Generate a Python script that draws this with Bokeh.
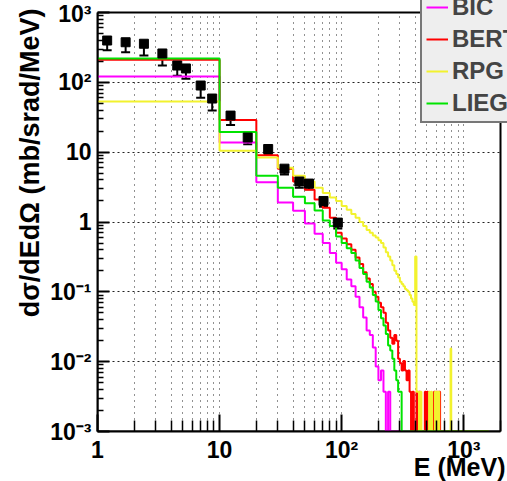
import numpy as np
from bokeh.plotting import figure
from bokeh.models import (BoxAnnotation, ColumnDataSource, FixedTicker,
                          Legend, LegendItem, TeeHead, Title, Whisker)
from bokeh.embed import file_html
from bokeh.resources import INLINE

# ---------------------------------------------------------------------------
# Model histograms: 10 MeV bins starting at 0 MeV, values in mb/srad/MeV.
# Bins beyond the listed values are empty.
# ---------------------------------------------------------------------------
BIN_WIDTH = 10.0
E_MAX = 1600.0

bic = [121, 13.7, 3.7, 1.9, 1.45, 0.95, 0.68, 0.5, 0.36, 0.26,
       0.21, 0.15, 0.12, 0.085, 0.06, 0.043, 0.028, 0.024, 0.016, 0.0085,
       0.0054, 0.0075, 0.0037, 0, 0.0037]

bert = [210, 29, 9.0, 5.8, 3.8, 2.9, 2.1, 1.6, 1.15, 0.7,
        0.58, 0.48, 0.4, 0.31, 0.25, 0.19, 0.155, 0.13, 0.1, 0.085,
        0.07, 0.06, 0.05, 0.036, 0.028, 0.022, 0.018, 0.024, 0.02, 0.011,
        0.0095, 0.0075, 0.0102, 0.0075, 0.0054, 0.0075, 0.0037, 0, 0.0037, 0,
        0, 0.0037, 0, 0.0037, 0, 0, 0, 0, 0.0037, 0,
        0.0037, 0, 0, 0, 0, 0, 0, 0.0037, 0, 0.0037,
        0, 0.0037, 0, 0.0037]

rpg = [53, 10.5, 8.4, 6.0, 4.6, 3.8, 3.1, 2.6, 2.25, 2.0,
       1.7, 1.5, 1.3, 1.15, 1.0, 0.88, 0.77, 0.7, 0.64, 0.6,
       0.55, 0.5, 0.43, 0.37, 0.32, 0.28, 0.24, 0.2, 0.18, 0.16,
       0.14, 0.13, 0.12, 0.11, 0.105, 0.1, 0.09, 0.08, 0.072, 0.065,
       0.32, 0.0037, 0.0037, 0, 0.0037, 0, 0, 0, 0, 0,
       0, 0, 0.0037, 0, 0.0037, 0, 0, 0, 0.0037, 0,
       0.0037, 0, 0.0037, 0, 0, 0, 0, 0, 0, 0,
       0, 0, 0, 0, 0, 0, 0, 0, 0.0155]

liege = [220, 19.5, 4.6, 3.1, 2.3, 1.85, 1.46, 1.05, 0.88, 0.62,
         0.5, 0.42, 0.36, 0.28, 0.22, 0.18, 0.14, 0.115, 0.09, 0.073,
         0.055, 0.042, 0.033, 0.025, 0.017, 0.0145, 0.011, 0.0075, 0.0054, 0.0037,
         0.0037]

# Measured points
data_e = [1.2, 1.7, 2.4, 3.4, 4.5, 5.3, 7.0, 8.7, 12.3, 17, 25, 34, 45, 54, 71, 93]
data_val = [397, 375, 357, 259, 174, 158, 90, 58.6, 33.4, 16.2, 11.1, 5.8, 3.8, 3.55, 2.0, 0.98]
data_err_lo = [110, 105, 115, 85, 50, 45, 30, 19, 9, 3.2, 1.8, 1.0, 0.7, 0.6, 0.35, 0.17]
data_err_hi = [40, 37, 35, 26, 17, 16, 9, 6, 3.3, 1.6, 1.1, 0.6, 0.4, 0.35, 0.2, 0.1]

# Axes
X_RANGE = (1, 2000)
Y_RANGE = (1e-3, 1e3)
x_major = [1, 10, 100, 1000]
x_major_labels = ["1", "10", "10²", "10³"]
y_major = [1e-3, 1e-2, 1e-1, 1, 10, 100, 1000]
y_major_labels = ["10⁻³", "10⁻²", "10⁻¹", "1", "10", "10²", "10³"]
x_minor = [m * 10 ** k for k in range(0, 3) for m in range(2, 10)] + [2000]
y_minor = [m * 10.0 ** k for k in range(-3, 3) for m in range(2, 10)]
x_title = "E (MeV)"
y_title = "dσ/dEdΩ (mb/srad/MeV)"

FONT = "Liberation Sans"

# Page layout (pixels). The drawing area runs to the top and right edges of
# the canvas so the legend box can spill over them; the framed region of the
# axes sits a few pixels inside.
W, H = 507, 481
BORDER_LEFT, BORDER_BOTTOM = 97, 50
BOX_RIGHT_PX, BOX_TOP_PX = 500, 12
frame_h = H - BORDER_BOTTOM
px_dec_x = (BOX_RIGHT_PX - BORDER_LEFT) / np.log10(X_RANGE[1] / X_RANGE[0])
px_dec_y = (frame_h - BOX_TOP_PX) / np.log10(Y_RANGE[1] / Y_RANGE[0])
x_view = (X_RANGE[0], X_RANGE[0] * 10 ** ((W - BORDER_LEFT) / px_dec_x))
y_view = (Y_RANGE[0], Y_RANGE[1] * 10 ** (BOX_TOP_PX / px_dec_y))

n_bins = int(E_MAX / BIN_WIDTH)
edges = np.arange(n_bins + 1) * BIN_WIDTH


def hist_outline(vals):
    v = np.zeros(n_bins)
    v[:len(vals)] = vals
    v = np.where(v > 0, v, Y_RANGE[0])      # empty bins rest on the axis floor
    x = edges.copy()
    x[0] = X_RANGE[0] * 0.5                 # 0 MeV edge is off the log axis
    y = np.append(v, v[-1])
    return x, y


p = figure(width=W, height=H, x_axis_type="log", y_axis_type="log",
           x_range=x_view, y_range=y_view, output_backend="svg",
           toolbar_location=None, min_border_left=BORDER_LEFT,
           min_border_right=0, min_border_top=0,
           min_border_bottom=BORDER_BOTTOM)
p.background_fill_color = "white"
p.border_fill_color = "white"
p.outline_line_color = None

# grid: dotted verticals at every tick, dotted horizontals at decades
p.xgrid.grid_line_color = "#222222"
p.xgrid.grid_line_dash = "1 5"
p.xgrid.minor_grid_line_color = "#222222"
p.xgrid.minor_grid_line_dash = "1 5"
p.ygrid.grid_line_color = "#222222"
p.ygrid.grid_line_dash = "2 3"

# blank strips outside the axes box (over the grid, under the data)
p.add_layout(BoxAnnotation(bottom=Y_RANGE[1], fill_color="white", fill_alpha=1,
                           line_alpha=0, level="underlay"))
p.add_layout(BoxAnnotation(left=X_RANGE[1], fill_color="white", fill_alpha=1,
                           line_alpha=0, level="underlay"))

for ax, major, labels, minor, bnds in (
        (p.xaxis, x_major, x_major_labels, x_minor, X_RANGE),
        (p.yaxis, y_major, y_major_labels, y_minor, Y_RANGE)):
    ax.ticker = FixedTicker(ticks=major, minor_ticks=minor)
    ax.major_label_overrides = dict(zip(major, labels))
    ax.bounds = bnds
    ax.major_label_text_font = FONT
    ax.major_label_text_font_style = "bold"
    ax.major_label_text_font_size = "23px"
    ax.major_label_text_color = "black"
    ax.axis_line_width = 2
    ax.major_tick_out = 0
    ax.minor_tick_out = 0
    ax.major_tick_line_width = 2
    ax.minor_tick_line_width = 1.5

p.xaxis.major_tick_in = 17
p.xaxis.minor_tick_in = 11
p.xaxis.major_label_standoff = 5
p.yaxis.major_tick_in = 12
p.yaxis.minor_tick_in = 6
p.yaxis.major_label_standoff = 6

# axis titles, flush with the far ends of the axes
p.add_layout(Title(text=x_title, align="right", vertical_align="top",
                   standoff=-26, offset=2,
                   text_font=FONT, text_font_style="bold",
                   text_font_size="25px", text_color="black"), "below")
p.add_layout(Title(text=y_title, align="right", standoff=6, offset=8,
                   text_font=FONT, text_font_style="bold",
                   text_font_size="27px", text_color="black"), "left")

# box around the axes
p.quad(left=X_RANGE[0], right=X_RANGE[1], bottom=Y_RANGE[0], top=Y_RANGE[1],
       fill_alpha=0, line_color="black", line_width=2)

models = [("BIC", bic, "#ff00ff"), ("BERT", bert, "#ff0000"),
          ("RPG", rpg, "#f2f22e"), ("LIEGE", liege, "#00e400")]
items = []
for name, vals, color in models:
    hx, hy = hist_outline(vals)
    r = p.step(hx, hy, mode="after", line_color=color, line_width=2)
    items.append(LegendItem(label=name, renderers=[r]))

# measured points with error bars
src = ColumnDataSource(dict(
    e=data_e, v=data_val,
    lo=[v - d for v, d in zip(data_val, data_err_lo)],
    hi=[v + d for v, d in zip(data_val, data_err_hi)]))
p.add_layout(Whisker(source=src, base="e", lower="lo", upper="hi",
                     dimension="height", line_color="black", line_width=2,
                     lower_head=TeeHead(size=9, line_color="black", line_width=2),
                     upper_head=TeeHead(size=1, line_color="black", line_width=1)))
p.scatter("e", "v", source=src, marker="square", size=9, color="black")

legend = Legend(items=items, location=(323, 308),
                glyph_width=22, glyph_height=24, label_height=24,
                label_text_font=FONT, label_text_font_style="bold",
                label_text_font_size="24px", label_standoff=4,
                spacing=4, padding=4, margin=0,
                border_line_color="black", border_line_width=2,
                background_fill_color="#eeeeee", background_fill_alpha=1.0)
p.add_layout(legend, "center")

open("out.html", "w").write(file_html(p, INLINE))
